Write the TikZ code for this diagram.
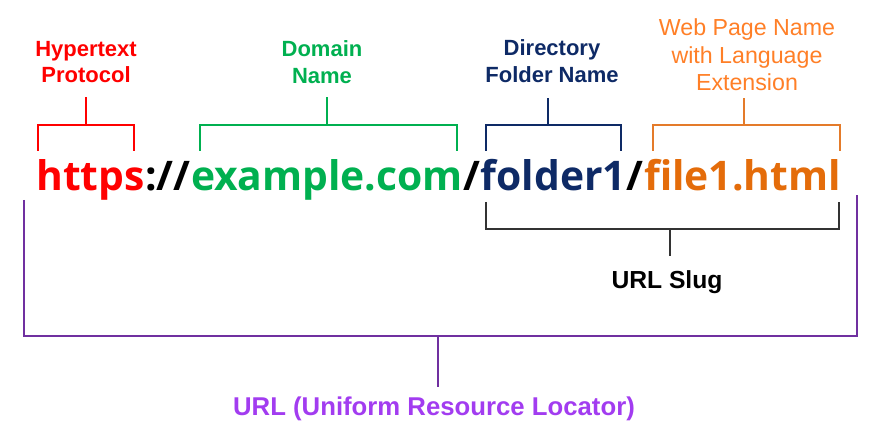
\documentclass[tikz,border=0pt]{standalone}
\usepackage{fontspec}
\usepackage{xcolor}
\setmainfont{Liberation Sans}
\newfontfamily\urlfont{Open Sans}
\usetikzlibrary{positioning}
\definecolor{protoRed}{HTML}{FF0000}
\definecolor{domGreen}{HTML}{00B050}
\definecolor{dirNavy}{HTML}{0E2A66}
\definecolor{fileOrange}{HTML}{E46C0A}
\definecolor{lblOrange}{HTML}{FF7F27}
\definecolor{brkOrange}{HTML}{E47B2A}
\definecolor{slugGray}{HTML}{333333}
\definecolor{urlPurple}{HTML}{7030A0}
\definecolor{lblPurple}{HTML}{A23CF0}

\begin{document}
\begin{tikzpicture}[
    x=0.75pt, y=-0.75pt,
    part/.style={inner sep=0, anchor=base west, font=\urlfont\bfseries\fontsize{30.6}{36}\selectfont},
    lbl/.style={inner sep=0, align=center, font=\bfseries\fontsize{16.5}{20}\selectfont},
    thinlbl/.style={inner sep=0, align=center, font=\fontsize{17.4}{20.5}\selectfont},
    slug/.style={inner sep=0, align=center, font=\bfseries\fontsize{18.5}{22}\selectfont},
    biglbl/.style={inner sep=0, align=center, font=\bfseries\fontsize{19.3}{23}\selectfont},
    brk/.style={line width=1.7pt},
]
\useasboundingbox (0,0) rectangle (879,434);

\node[part, text=protoRed] (proto) at (36,191) {https};
\node[part] (sepA) at (proto.base east) {://};
\node[part, text=domGreen] (domain) at (sepA.base east) {example.com};
\node[part] (slashA) at (domain.base east) {/};
\node[part, text=dirNavy] (folder) at (slashA.base east) {folder1};
\node[part] (slashB) at (folder.base east) {/};
\node[part, text=fileOrange] (file) at (slashB.base east) {file1.html};

\node[lbl, text=protoRed] (protoLbl) at (86,62) {Hypertext\\Protocol};
\node[lbl, text=domGreen] (domainLbl) at (322,62) {Domain\\Name};
\node[lbl, text=dirNavy] (folderLbl) at (552,61) {Directory\\Folder Name};
\node[thinlbl, text=lblOrange] (fileLbl) at (747,55) {Web Page Name\\with Language\\Extension};
\node[slug, text=black] (slugLbl) at (667,282) {URL Slug};
\node[biglbl, text=lblPurple] (urlLbl) at (434,409) {URL (Uniform Resource Locator)};

\coordinate (protoL) at (38,151);
\coordinate (protoR) at (134,151);
\coordinate (protoMid) at (86,125);
\coordinate (protoTip) at (86,97);
\coordinate (domainL) at (200,151);
\coordinate (domainR) at (457,151);
\coordinate (domainMid) at (327,125);
\coordinate (domainTip) at (327,97);
\coordinate (folderL) at (486,151);
\coordinate (folderR) at (621,151);
\coordinate (folderMid) at (548,125);
\coordinate (folderTip) at (548,98);
\coordinate (fileL) at (653,151);
\coordinate (fileR) at (840,151);
\coordinate (fileMid) at (744,125);
\coordinate (fileTip) at (744,98);
\coordinate (slugL) at (486,202);
\coordinate (slugR) at (839,202);
\coordinate (slugMid) at (670,229);
\coordinate (slugTip) at (670,256);
\coordinate (urlL) at (24,200);
\coordinate (urlR) at (857,195);
\coordinate (urlMid) at (438,336);
\coordinate (urlTip) at (438,387);

\draw[brk, protoRed] (protoL) |- (protoMid) -| (protoR);
\draw[brk, protoRed] (protoMid) -- (protoTip);
\draw[brk, domGreen] (domainL) |- (domainMid) -| (domainR);
\draw[brk, domGreen] (domainMid) -- (domainTip);
\draw[brk, dirNavy] (folderL) |- (folderMid) -| (folderR);
\draw[brk, dirNavy] (folderMid) -- (folderTip);
\draw[brk, brkOrange] (fileL) |- (fileMid) -| (fileR);
\draw[brk, brkOrange] (fileMid) -- (fileTip);
\draw[brk, slugGray] (slugL) |- (slugMid) -| (slugR);
\draw[brk, slugGray] (slugMid) -- (slugTip);
\draw[brk, urlPurple] (urlL) |- (urlMid) -| (urlR);
\draw[brk, urlPurple] (urlMid) -- (urlTip);
\end{tikzpicture}
\end{document}
